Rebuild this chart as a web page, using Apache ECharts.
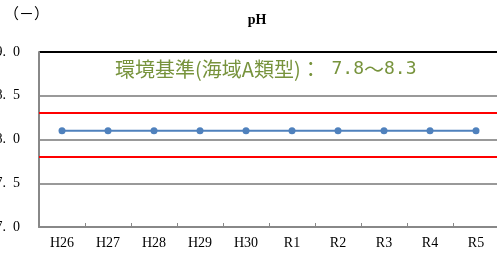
<!DOCTYPE html>
<html>
<head>
<meta charset="utf-8">
<script src="https://cdn.jsdelivr.net/npm/echarts@6/dist/echarts.min.js"></script>
<style>
  html, body { margin: 0; padding: 0; background: #fff; }
  #main { width: 497px; height: 254px; }
</style>
</head>
<body>
<div id="main"></div>
<script>
const years = ["H26", "H27", "H28", "H29", "H30", "R1", "R2", "R3", "R4", "R5"];
const phValues = [8.1, 8.1, 8.1, 8.1, 8.1, 8.1, 8.1, 8.1, 8.1, 8.1];
const standardLines = [7.8, 8.3];
const yTicks = [7.0, 7.5, 8.0, 8.5, 9.0];

const serif = "'Liberation Serif', 'DejaVu Serif', serif";
const green = "#77933C";

const chart = echarts.init(document.getElementById("main"));

chart.setOption({
  animation: false,
  title: {
    text: "pH",
    left: 252,
    top: 8,
    textAlign: "center",
    textStyle: {fontFamily: serif, fontSize: 14, fontWeight: "bold", color: "#000"},
  },
  graphic: [
    {
      type: "text",
      left: 4,
      top: 6,
      style: {text: "（－）", font: "15px 'Noto Sans CJK JP'", fill: "#000"},
    },
    {
      type: "text",
      left: 115,
      top: 59,
      style: {
        // 環境基準(海域A類型)：7.8～8.3
        text: "{a|環境基準(海域A類型)：}{n| 7.8}{a|～}{n|8.3}",
        rich: {
          a: {fontFamily: "Noto Sans CJK JP", fontSize: 20, fill: green, color: green},
          n: {fontFamily: "DejaVu Sans Mono", fontSize: 18, fill: green, color: green},
        },
      },
    },
  ],
  grid: {left: 39, top: 52, width: 460, height: 175, outerBoundsMode: "none", containLabel: false},
  xAxis: {
    type: "category",
    data: years,
    boundaryGap: true,
    axisLine: {lineStyle: {color: "#888", width: 2}},
    axisTick: {show: true, inside: true, length: 4, lineStyle: {color: "#888"}},
    axisLabel: {fontFamily: serif, fontSize: 14, color: "#000", margin: 9},
  },
  yAxis: {
    type: "value",
    min: yTicks[0],
    max: yTicks[yTicks.length - 1],
    interval: 0.5,
    axisLine: {show: true, lineStyle: {color: "#888", width: 2}},
    axisTick: {show: false},
    axisLabel: {
      fontFamily: serif,
      fontSize: 14,
      color: "#000",
      margin: 19,
      formatter: v => v.toFixed(1).replace(".", ".  "),
    },
    splitLine: {
      lineStyle: {color: ["#999", "#999", "#999", "#999", "#000"], width: 2},
    },
  },
  series: [
    {
      type: "line",
      data: phValues,
      symbol: "circle",
      symbolSize: 7,
      itemStyle: {color: "#4F81BD"},
      lineStyle: {color: "#4F81BD", width: 2},
      markLine: {
        silent: true,
        symbol: "none",
        label: {show: false},
        lineStyle: {color: "#FF0000", width: 2, type: "solid"},
        data: standardLines.map(v => ({yAxis: v})),
      },
    },
  ],
});
</script>
</body>
</html>
